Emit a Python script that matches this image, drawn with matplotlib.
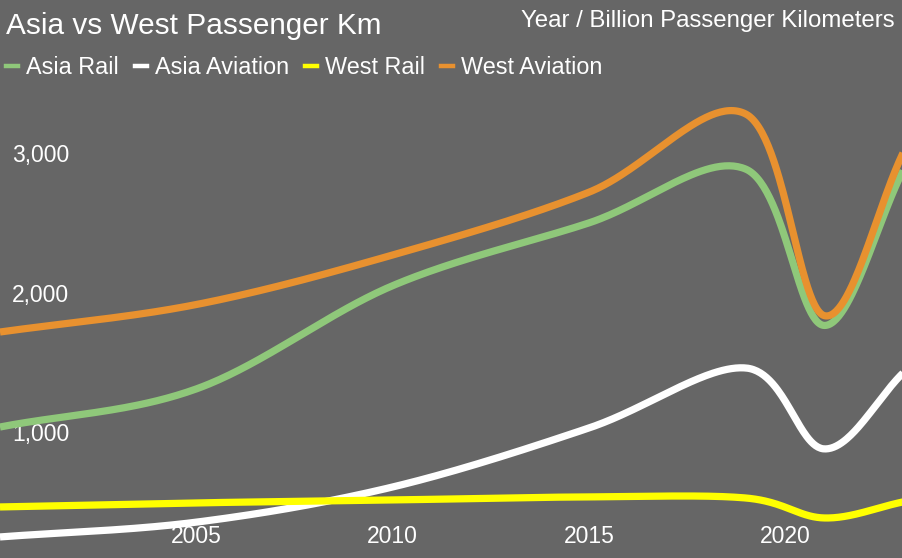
import numpy as np
import matplotlib
matplotlib.use("Agg")
import matplotlib.pyplot as plt
from matplotlib.lines import Line2D

plt.rcParams["font.family"] = ["Liberation Sans", "DejaVu Sans"]

years = [2000, 2005, 2010, 2015, 2019, 2021, 2023]
asia_rail = [1057, 1330, 2070, 2520, 2905, 1785, 2895]
asia_aviation = [269, 375, 627, 1050, 1480, 900, 1444]
west_rail = [484, 513, 534, 556, 548, 405, 520]
west_aviation = [1738, 1935, 2290, 2740, 3300, 1855, 3021]

series = [
    ("Asia Rail", asia_rail, "#8fc87a"),
    ("Asia Aviation", asia_aviation, "#ffffff"),
    ("West Rail", west_rail, "#ffff00"),
    ("West Aviation", west_aviation, "#e8912f"),
]
x_ticks = [2005, 2010, 2015, 2020]
y_ticks = [1000, 2000, 3000]

BG = "#666666"


def catmull_rom(x, y, n=60):
    # smooth the drawn line through every data point
    x = np.asarray(x, float)
    y = np.asarray(y, float)
    px = np.concatenate([[2 * x[0] - x[1]], x, [2 * x[-1] - x[-2]]])
    py = np.concatenate([[2 * y[0] - y[1]], y, [2 * y[-1] - y[-2]]])
    xs, ys = [], []
    t = np.linspace(0, 1, n, endpoint=False)
    for i in range(1, len(px) - 2):
        for p, out in ((px, xs), (py, ys)):
            p0, p1, p2, p3 = p[i - 1], p[i], p[i + 1], p[i + 2]
            out.append(0.5 * (2 * p1 + (-p0 + p2) * t + (2 * p0 - 5 * p1 + 4 * p2 - p3) * t ** 2
                              + (-p0 + 3 * p1 - 3 * p2 + p3) * t ** 3))
    xs.append([x[-1]])
    ys.append([y[-1]])
    return np.concatenate(xs), np.concatenate(ys)


fig = plt.figure(figsize=(9.03, 5.58), dpi=100, facecolor=BG)
ax = fig.add_axes([0, 0, 1, 1], facecolor=BG)

for name, vals, color in series:
    sx, sy = catmull_rom(years, vals)
    ax.plot(sx, sy, color=color, lw=5.2, solid_capstyle="butt", label=name)

ax.set_xlim(2000, 2023)
ax.set_ylim(118, 4118)
for s in ax.spines.values():
    s.set_visible(False)

ax.set_xticks(x_ticks)
ax.set_xticklabels([str(v) for v in x_ticks])
ax.set_yticks(y_ticks)
ax.set_yticklabels([f"{v:,}" for v in y_ticks])
ax.tick_params(axis="x", length=0, pad=-23.5, labelsize=16.5, colors="white")
ax.tick_params(axis="y", length=0, pad=-8.5, labelsize=16.5, colors="white")
for lab in ax.get_yticklabels():
    lab.set_horizontalalignment("left")
    lab.set_verticalalignment("center")

W, H = 903, 558
fig.text(6 / W, 1 - 34 / H, "Asia vs West Passenger Km", color="white",
         fontsize=21.4, va="baseline", ha="left")
fig.text(895 / W, 1 - 27 / H, "Year / Billion Passenger Kilometers", color="white",
         fontsize=17.3, va="baseline", ha="right")

# legend row
renderer = fig.canvas.get_renderer()
x0 = 6
for name, vals, color in series:
    fig.add_artist(Line2D([x0 / W, (x0 + 12) / W], [1 - 66 / H, 1 - 66 / H],
                          color=color, lw=3.2, transform=fig.transFigure))
    t = fig.text((x0 + 20) / W, 1 - 74 / H, name, color="white", fontsize=16.8,
                 va="baseline", ha="left")
    bb = t.get_window_extent(renderer)
    x0 = bb.x1 + 16

fig.savefig("out.png", dpi=100, facecolor=BG)
